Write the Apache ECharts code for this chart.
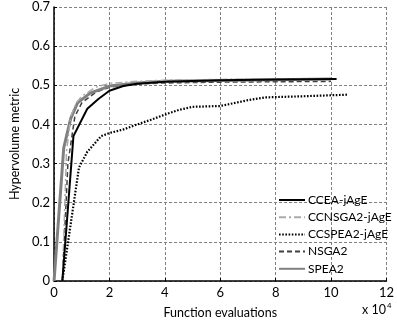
<!DOCTYPE html>
<html>
<head>
<meta charset="utf-8">
<script src="https://cdn.jsdelivr.net/npm/echarts@6/dist/echarts.min.js"></script>
<style>
  html, body { margin: 0; padding: 0; background: #fff; }
  #chart { width: 397px; height: 324px; }
</style>
</head>
<body>
<div id="chart"></div>
<script>
// function evaluations are in units of 10^4
const seriesNames = ['CCEA-jAgE', 'CCNSGA2-jAgE', 'CCSPEA2-jAgE', 'NSGA2', 'SPEA2'];

const cceaData = [[0.3, 0], [0.7, 0.37], [1.2, 0.44], [1.6, 0.465], [2, 0.486], [2.5, 0.498],
  [3, 0.504], [4, 0.509], [6, 0.513], [8, 0.515], [10.2, 0.516]];
const ccnsga2Data = [[0.3, 0], [0.45, 0.33], [0.6, 0.42], [0.8, 0.455], [1, 0.472], [1.5, 0.495],
  [2, 0.505], [3, 0.51], [4, 0.513], [6, 0.515], [8, 0.516], [10, 0.517]];
const ccspea2Data = [[0.3, 0], [0.9, 0.29], [1.2, 0.33], [1.7, 0.37], [2, 0.378], [2.5, 0.387],
  [3, 0.4], [3.5, 0.412], [4, 0.425], [4.5, 0.437], [5, 0.445], [6, 0.447], [7, 0.462],
  [7.6, 0.469], [9, 0.472], [10.6, 0.476]];
const nsga2Data = [[0.3, 0], [0.5, 0.3], [0.75, 0.42], [1, 0.455], [1.5, 0.482], [2, 0.495],
  [3, 0.503], [4, 0.506], [6, 0.508], [8, 0.509], [10, 0.51]];
const spea2Data = [[0, 0], [0.35, 0.34], [0.6, 0.415], [0.85, 0.455], [1.3, 0.48], [2, 0.498],
  [3, 0.506], [4, 0.51], [6, 0.512], [8, 0.514], [10, 0.516]];

const xTicks = [0, 2, 4, 6, 8, 10, 12];
const yTicks = [0, 0.1, 0.2, 0.3, 0.4, 0.5, 0.6, 0.7];

const font = 'Lato, "Liberation Sans", sans-serif';

const chart = echarts.init(document.getElementById('chart'));

const mkLine = (name, data, color, width, type) => ({
  name: name,
  type: 'line',
  data: data,
  symbol: 'none',
  smooth: false,
  lineStyle: { color: color, width: width, type: type },
  itemStyle: { color: color },
  animation: false,
});

chart.setOption({
  backgroundColor: '#fff',
  animation: false,
  textStyle: { fontFamily: font },
  grid: { left: 42, right: 6, top: 7, bottom: 42 },
  legend: {
    orient: 'vertical',
    left: 273,
    top: 189,
    itemWidth: 26,
    itemHeight: 8,
    itemGap: 5.2,
    itemStyle: { opacity: 0 },
    textStyle: { fontFamily: font, fontSize: 12, color: '#000', padding: [0, 0, 0, -2] },
    data: seriesNames,
  },
  xAxis: {
    type: 'value',
    min: xTicks[0],
    max: xTicks[xTicks.length - 1],
    interval: 2,
    name: 'Function evaluations',
    nameLocation: 'middle',
    nameGap: 25,
    nameTextStyle: { fontFamily: font, fontSize: 12.5, color: '#000' },
    axisLine: { onZero: false, lineStyle: { color: '#000', width: 1.5 } },
    axisTick: { inside: true, length: 3, lineStyle: { color: '#000' } },
    axisLabel: { fontFamily: font, fontSize: 13, color: '#000', margin: 5 },
    splitLine: { show: true, lineStyle: { color: '#808080', type: [3, 2], width: 1 } },
  },
  yAxis: {
    type: 'value',
    min: yTicks[0],
    max: yTicks[yTicks.length - 1],
    interval: 0.1,
    name: 'Hypervolume metric',
    nameLocation: 'middle',
    nameGap: 29,
    nameTextStyle: { fontFamily: font, fontSize: 12.5, color: '#000' },
    axisLine: { show: true, onZero: false, lineStyle: { color: '#000', width: 1.5 } },
    axisTick: { show: true, inside: true, length: 3, lineStyle: { color: '#000' } },
    axisLabel: {
      fontFamily: font, fontSize: 13, color: '#000', margin: 4,
      formatter: (v) => (v === 0 ? '0' : v.toFixed(1)),
    },
    splitLine: { show: true, lineStyle: { color: '#808080', type: [3, 2], width: 1 } },
  },
  graphic: [{
    type: 'text',
    left: 362,
    top: 302,
    style: {
      text: 'x 10{s|4}',
      fontFamily: font,
      fontSize: 12.5,
      fill: '#000',
      rich: { s: { fontSize: 8, verticalAlign: 'top', padding: [0, 0, 8, 1] } },
    },
  }],
  series: [
    mkLine('CCSPEA2-jAgE', ccspea2Data, '#000', 2.2, [1.6, 1.6]),
    mkLine('NSGA2', nsga2Data, '#404040', 1.5, [5, 3]),
    mkLine('SPEA2', spea2Data, '#808080', 3, 'solid'),
    mkLine('CCNSGA2-jAgE', ccnsga2Data, '#aaaaaa', 1.5, [7, 3, 2, 3]),
    mkLine('CCEA-jAgE', cceaData, '#000', 2, 'solid'),
  ],
});
</script>
</body>
</html>
